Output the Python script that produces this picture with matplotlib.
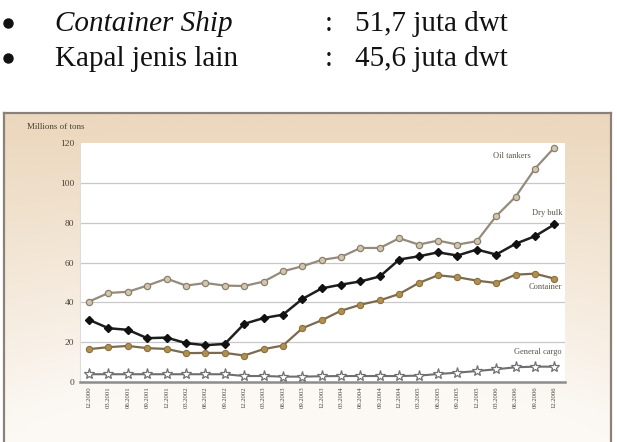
import numpy as np
import matplotlib
matplotlib.use("Agg")
import matplotlib.pyplot as plt
from matplotlib.lines import Line2D

# quarterly periods 12.2000 .. 12.2006
periods = ['12.2000', '03.2001', '06.2001', '09.2001', '12.2001', '03.2002', '06.2002',
           '09.2002', '12.2002', '03.2003', '06.2003', '09.2003', '12.2003', '03.2004',
           '06.2004', '09.2004', '12.2004', '03.2005', '06.2005', '09.2005', '12.2005',
           '03.2006', '06.2006', '09.2006', '12.2006']

oil_tankers = [40.4, 44.7, 45.3, 48.4, 51.9, 48.4, 49.7, 48.4, 48.2, 50.4, 55.6, 58.1, 61.3,
               62.8, 67.3, 67.3, 72.2, 69.0, 71.0, 69.0, 70.7, 83.3, 93.0, 107.1, 117.7]
dry_bulk = [31.2, 27.0, 26.2, 22.0, 22.3, 19.5, 18.5, 19.1, 29.2, 32.1, 33.8, 41.7, 47.0,
            48.9, 50.5, 53.0, 61.5, 63.1, 65.1, 63.5, 66.5, 64.0, 69.4, 73.2, 79.1]
container = [16.5, 17.5, 18.1, 17.0, 16.6, 14.5, 14.6, 14.6, 13.3, 16.5, 18.3, 27.0, 31.0,
             35.8, 38.8, 41.0, 44.2, 49.7, 53.6, 52.6, 50.9, 49.7, 53.9, 54.4, 51.9]
general_cargo = [3.9, 3.9, 3.9, 3.9, 3.9, 3.9, 3.9, 3.9, 3.0, 3.0, 2.7, 2.7, 2.9,
                 3.0, 3.0, 3.0, 3.0, 3.2, 4.0, 4.7, 5.5, 6.4, 7.4, 7.7, 7.7]

yticks = [0, 20, 40, 60, 80, 100, 120]

W, H = 617, 442
fig = plt.figure(figsize=(W / 100, H / 100), dpi=100)
fig.patch.set_facecolor('white')

# header text (bullets)
serif = 'Liberation Serif'
fs = 21
tc = '#111111'
for yb, label, style, val in [(31, 'Container Ship', 'italic', '51,7 juta dwt'),
                              (66, 'Kapal jenis lain', 'normal', '45,6 juta dwt')]:
    yy = 1 - yb / H
    fig.add_artist(Line2D([7.5 / W], [1 - (yb - 8) / H], marker='o', ms=6.5, color=tc,
                          transform=fig.transFigure))
    fig.text(55 / W, yy, label, fontsize=fs, family=serif, style=style, color=tc, va='baseline')
    fig.text(325 / W, yy, ':', fontsize=fs, family=serif, color=tc, va='baseline')
    fig.text(355 / W, yy, val, fontsize=fs, family=serif, color=tc, va='baseline')

# framed beige background
fl, fr, ft = 4 / W, 611 / W, 1 - 113 / H
bg = fig.add_axes([fl, -0.02, fr - fl, ft + 0.02])
ny, nx = 200, 200
gy = np.linspace(0, 1, ny)[:, None]
gx = np.linspace(-1, 1, nx)[None, :]
t = np.clip(gy * 1.1 - 0.05 + 0.25 * (1 - gx ** 2) * gy, 0, 1)
top = np.array([236, 216, 190]) / 255
bot = np.array([252, 249, 245]) / 255
img = top[None, None, :] * (1 - t[..., None]) + bot[None, None, :] * t[..., None]
bg.imshow(img, aspect='auto', extent=[0, 1, 0, 1], origin='upper')
bg.set_xlim(0, 1)
bg.set_ylim(0, 1)
bg.set_xticks([])
bg.set_yticks([])
for s in bg.spines.values():
    s.set_color('#8a8278')
    s.set_linewidth(1.6)
bg.spines['bottom'].set_visible(False)

fig.text(27 / W, 1 - 127 / H, 'Millions of tons', fontsize=6.5, family=serif,
         color='#4a4238', va='center')

# main plot
ax = fig.add_axes([80 / W, 1 - 382 / H, 485 / W, 239 / H])
ax.set_facecolor('white')
x = np.arange(len(periods))
ax.set_xlim(-0.47, 24.55)
ax.set_ylim(0, 120)
for v in yticks[1:-1]:
    ax.axhline(v, color='#c8c8c8', lw=0.9, zorder=1)
for s in ['top', 'right']:
    ax.spines[s].set_visible(False)
ax.spines['left'].set_color('#dddddd')
ax.spines['left'].set_linewidth(0.8)
ax.spines['bottom'].set_color('#8c8c8c')
ax.spines['bottom'].set_linewidth(1.8)

ax.plot(x, oil_tankers, color='#958b7c', lw=1.6, marker='o', ms=4.5,
        mfc='#d4c6ad', mec='#8a806f', mew=0.9, zorder=3)
ax.plot(x, dry_bulk, color='#1e1e1e', lw=1.8, marker='D', ms=4.2,
        mfc='#111111', mec='#111111', zorder=4)
ax.plot(x, container, color='#7a6a50', lw=1.6, marker='o', ms=4.5,
        mfc='#b0904e', mec='#8a7040', mew=0.8, zorder=3)
ax.plot(x, general_cargo, color='#6e6e6e', lw=1.5, marker='*', ms=8,
        mfc='white', mec='#707070', mew=0.9, zorder=3)

lab = dict(fontsize=6, family=serif, color='#5a5248', ha='right', va='center')
ax.text(22.8, 113.5, 'Oil tankers', **lab)
ax.text(24.4, 85, 'Dry bulk', **lab)
ax.text(24.4, 47.5, 'Container', **lab)
ax.text(24.4, 15, 'General cargo', **lab)

ax.set_yticks(yticks)
ax.set_yticklabels([str(v) for v in yticks], fontsize=6.8, family=serif, color='#4a4238')
ax.set_xticks(x)
ax.set_xticklabels(periods, rotation=90, fontsize=4.8, family=serif, color='#4a4238',
                   ha='center', va='top')
ax.tick_params(length=0, pad=3)
ax.tick_params(axis='y', pad=4)

fig.savefig('out.png', dpi=100)
